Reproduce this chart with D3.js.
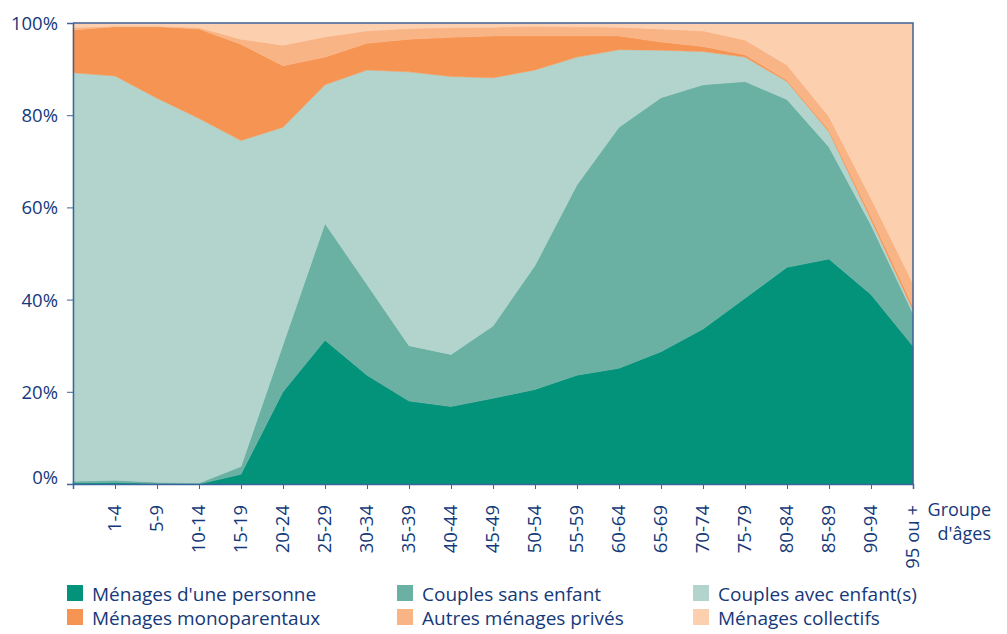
<!DOCTYPE html>
<html>
<head>
<meta charset="utf-8">
<script src="https://cdn.jsdelivr.net/npm/d3@7"></script>
<style>
  body { margin: 0; background: #fff; }
  text { font-family: "Open Sans", sans-serif; fill: #14397a; }
  .axis path, .axis line { stroke: #3f639c; }
</style>
</head>
<body>
<div id="chart"></div>
<script>
// age groups (first one has no printed label)
const ageGroups = ["0", "1-4", "5-9", "10-14", "15-19", "20-24", "25-29", "30-34", "35-39", "40-44",
  "45-49", "50-54", "55-59", "60-64", "65-69", "70-74", "75-79", "80-84", "85-89", "90-94", "95 ou +"];
const xTickLabels = ["", "1-4", "5-9", "10-14", "15-19", "20-24", "25-29", "30-34", "35-39", "40-44",
  "45-49", "50-54", "55-59", "60-64", "65-69", "70-74", "75-79", "80-84", "85-89", "90-94", "95 ou +"];

const seriesNames = ["Ménages d'une personne", "Couples sans enfant", "Couples avec enfant(s)",
  "Ménages monoparentaux", "Autres ménages privés", "Ménages collectifs"];

// shares in %
const unePersonne = [0.2, 0.3, 0.1, 0.0, 2.1, 20.0, 31.2, 23.6, 18.0, 16.8, 18.6, 20.5, 23.6, 25.1, 28.7, 33.6, 40.3, 47.0, 48.8, 41.1, 29.9];
const sansEnfant = [0.4, 0.5, 0.3, 0.2, 1.7, 10.2, 25.3, 19.7, 12.0, 11.3, 15.7, 26.9, 41.3, 52.3, 55.1, 53.0, 47.0, 36.4, 24.3, 15.1, 7.1];
const avecEnfant = [88.6, 87.7, 83.3, 79.1, 70.7, 47.2, 30.1, 46.5, 59.4, 60.3, 53.8, 42.4, 27.7, 16.8, 10.3, 7.2, 5.3, 3.9, 3.3, 1.1, 0.7];
const monoparentaux = [9.3, 10.7, 15.5, 19.4, 20.9, 13.3, 6.0, 5.8, 7.1, 8.5, 9.1, 7.4, 4.6, 3.0, 1.8, 1.1, 0.5, 0.3, 0.4, 0.7, 0.8];
const autresPrives = [0.5, 0.1, 0.1, 0.3, 1.1, 4.5, 4.4, 2.7, 2.3, 2.1, 1.9, 2.1, 2.0, 1.9, 2.8, 3.4, 3.2, 3.3, 2.9, 4.0, 5.0];
const collectifs = [1.0, 0.7, 0.7, 1.0, 3.5, 4.8, 3.0, 1.7, 1.2, 1.0, 0.9, 0.7, 0.8, 0.9, 1.3, 1.7, 3.7, 9.1, 20.3, 38.0, 56.5];

const yTicks = [0, 20, 40, 60, 80, 100];
const colors = ["#03937b", "#6bb1a3", "#b2d4cc", "#f69553", "#f9b486", "#fccfae"];

const width = 1007;
const height = 634;
const margin = { top: 23, left: 73, right: 94, bottom: 150 };

const allSeries = [unePersonne, sansEnfant, avecEnfant, monoparentaux, autresPrives, collectifs];
const table = ageGroups.map(function(g, i) {
  const row = { group: g };
  seriesNames.forEach(function(s, k) { row[s] = allSeries[k][i]; });
  return row;
});

const svg = d3.select("#chart")
  .append("svg")
  .attr("width", width)
  .attr("height", height);

const xScale = d3.scalePoint()
  .domain(ageGroups)
  .range([margin.left, width - margin.right]);

const yScale = d3.scaleLinear()
  .domain([0, 100])
  .range([height - margin.bottom, margin.top]);

const stacked = d3.stack()
  .keys(seriesNames)
  .offset(d3.stackOffsetExpand)(table);

const area = d3.area()
  .x(function(d) { return xScale(d.data.group); })
  .y0(function(d) { return yScale(d[0] * 100); })
  .y1(function(d) { return yScale(d[1] * 100); });

svg.selectAll("path.layer")
  .data(stacked)
  .enter()
  .append("path")
    .attr("class", "layer")
    .attr("d", area)
    .attr("fill", function(d, i) { return colors[i]; })
    .attr("stroke", function(d, i) { return colors[i]; })
    .attr("stroke-width", 0.5);

// frame on top and right
svg.append("path")
  .attr("d", `M${margin.left},${margin.top}H${width - margin.right}V${height - margin.bottom}`)
  .attr("fill", "none")
  .attr("stroke", "#3f639c")
  .attr("stroke-width", 1.5);

const yAxis = svg.append("g")
  .attr("class", "axis")
  .attr("transform", `translate(${margin.left},0)`)
  .call(d3.axisLeft(yScale).tickValues(yTicks).tickSize(6).tickPadding(9)
    .tickFormat(function(d) { return d + "%"; }));
yAxis.select(".domain").attr("stroke-width", 1.5);
yAxis.selectAll("text")
  .style("font-size", "18.5px")
  .attr("dy", function(d) { return d === 0 ? "-0.05em" : "0.35em"; });

const xAxis = svg.append("g")
  .attr("class", "axis")
  .attr("transform", `translate(0,${height - margin.bottom})`)
  .call(d3.axisBottom(xScale).tickSize(5)
    .tickFormat(function(d, i) { return xTickLabels[i]; }));
xAxis.select(".domain").attr("stroke-width", 1.5);
xAxis.selectAll("text")
  .style("font-size", "18.5px")
  .attr("transform", "rotate(-90)")
  .attr("text-anchor", "end")
  .attr("x", -21)
  .attr("y", 0)
  .attr("dy", "0.32em");

svg.append("text")
  .attr("x", 991).attr("y", 516)
  .attr("text-anchor", "end")
  .style("font-size", "18px")
  .text("Groupe");
svg.append("text")
  .attr("x", 991).attr("y", 540)
  .attr("text-anchor", "end")
  .style("font-size", "18px")
  .text("d'âges");

// legend, 3 columns x 2 rows
const legendX = [67, 397, 693];
const legendY = [585, 609];
const legend = svg.selectAll("g.legend")
  .data(seriesNames)
  .enter()
  .append("g")
    .attr("class", "legend")
    .attr("transform", function(d, i) {
      return `translate(${legendX[i % 3]},${legendY[Math.floor(i / 3)]})`;
    });

legend.append("rect")
  .attr("width", 16)
  .attr("height", 16)
  .attr("fill", function(d, i) { return colors[i]; });

legend.append("text")
  .attr("x", 25)
  .attr("y", 16)
  .style("font-size", "19px")
  .text(function(d) { return d; });
</script>
</body>
</html>
